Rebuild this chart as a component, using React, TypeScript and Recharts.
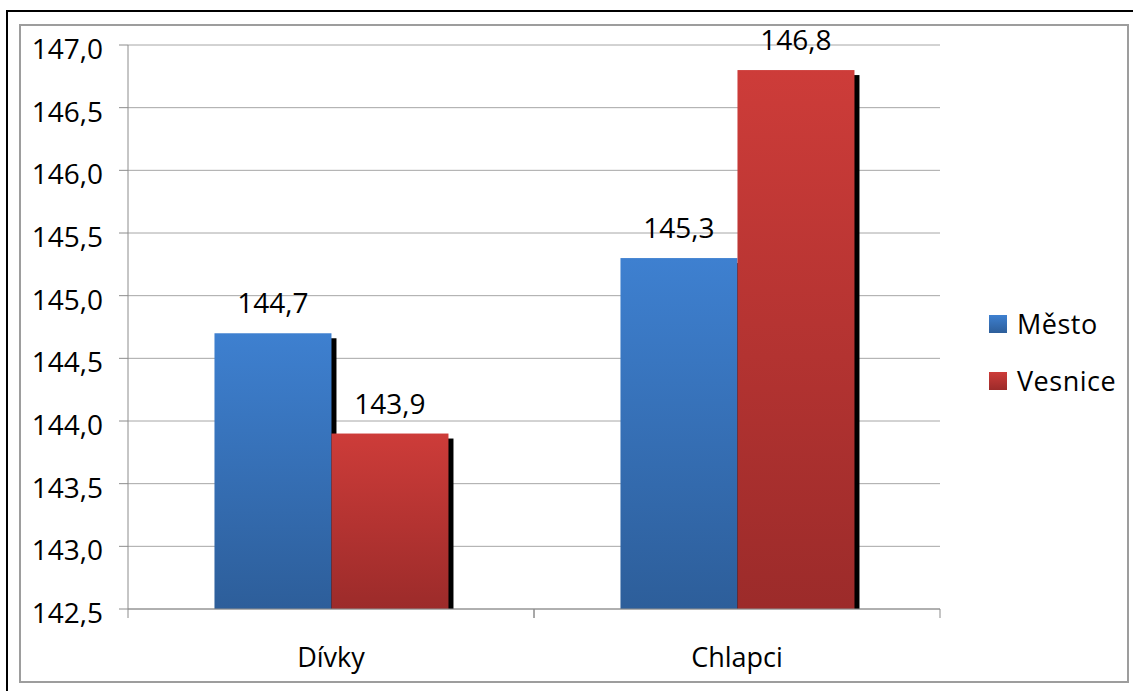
import React from "react";
import {
  BarChart,
  Bar,
  XAxis,
  YAxis,
  CartesianGrid,
  Legend,
  LabelList,
} from "recharts";

// Průměrná výška dětí podle bydliště
const categories = ["Dívky", "Chlapci"];
const mestoValues = [144.7, 145.3];
const vesniceValues = [143.9, 146.8];
const yTicks = [142.5, 143.0, 143.5, 144.0, 144.5, 145.0, 145.5, 146.0, 146.5, 147.0];
const seriesNames = ["Město", "Vesnice"];

const data = categories.map((name, i) => ({
  name,
  mesto: mestoValues[i],
  vesnice: vesniceValues[i],
}));

const FONT = "'Open Sans', 'Noto Sans', sans-serif";
const FS = 28;
const fmt = (v: number) => v.toFixed(1).replace(".", ",");

const GRAD = {
  mesto: ["#3e80d0", "#2d5e9a"],
  vesnice: ["#cd3c39", "#9c2b2a"],
};

// Bar with a solid black drop shadow offset to the lower right
const ShadowBar = (props: any) => {
  const { x, y, width, height, fill } = props;
  if (height == null || height <= 0) return null;
  return (
    <g>
      <rect x={x + 5} y={y + 5} width={width} height={height - 3} fill="#000" />
      <rect x={x} y={y} width={width} height={height} fill={fill} />
    </g>
  );
};

const ValueLabel = (props: any) => {
  const { x, y, width, value } = props;
  return (
    <text
      x={x + width / 2}
      y={y - 20}
      textAnchor="middle"
      fill="#000"
      fontSize={FS}
      fontFamily={FONT}
    >
      {fmt(value)}
    </text>
  );
};

const YTick = (props: any) => {
  const { x, y, payload } = props;
  return (
    <text x={x} y={y + 14} textAnchor="end" fill="#000" fontSize={FS} fontFamily={FONT}>
      {fmt(payload.value)}
    </text>
  );
};

// Category label plus the tick marks at both edges of the category band
const XTick = (props: any) => {
  const { x, y, payload } = props;
  const half = payload.offset ?? 0;
  const top = y - 6;
  return (
    <g>
      <line x1={x - half} x2={x - half} y1={top} y2={top + 9} stroke="#8c8c8c" />
      <line x1={x + half} x2={x + half} y1={top} y2={top + 9} stroke="#8c8c8c" />
      <text x={x} y={top + 58} textAnchor="middle" fill="#000" fontSize={FS - 1} fontFamily={FONT}>
        {payload.value}
      </text>
    </g>
  );
};

const LegendContent = () => {
  const keys: Array<"mesto" | "vesnice"> = ["mesto", "vesnice"];
  return (
    <div style={{ fontFamily: FONT, fontSize: FS - 1, color: "#000" }}>
      {keys.map((k, i) => (
        <div
          key={k}
          style={{ display: "flex", alignItems: "center", height: 57, letterSpacing: 0.5 }}
        >
          <div
            style={{
              width: 18,
              height: 18,
              marginRight: 10,
              background: `linear-gradient(${GRAD[k][0]}, ${GRAD[k][1]})`,
            }}
          />
          <span>{seriesNames[i]}</span>
        </div>
      ))}
    </div>
  );
};

export default function App() {
  return (
    <div
      style={{
        position: "absolute",
        left: 0,
        top: 0,
        width: 1133,
        height: 691,
        background: "#fff",
        overflow: "hidden",
      }}
    >
      <div
        style={{
          position: "absolute",
          left: 6,
          top: 10,
          width: 1200,
          height: 800,
          borderTop: "2px solid #000",
          borderLeft: "2px solid #000",
        }}
      />
      <div
        style={{
          position: "absolute",
          left: 19,
          top: 24,
          width: 1110,
          height: 659,
          boxSizing: "border-box",
          border: "2px solid #9d9d9d",
        }}
      />
      <div style={{ position: "absolute", left: 0, top: 0 }}>
        <BarChart
          width={1133}
          height={691}
          data={data}
          margin={{ top: 45, right: 193, bottom: 0, left: 0 }}
          barCategoryGap="21.3%"
          barGap={0}
        >
          <defs>
            <linearGradient id="gMesto" x1="0" y1="0" x2="0" y2="1">
              <stop offset="0%" stopColor={GRAD.mesto[0]} />
              <stop offset="100%" stopColor={GRAD.mesto[1]} />
            </linearGradient>
            <linearGradient id="gVesnice" x1="0" y1="0" x2="0" y2="1">
              <stop offset="0%" stopColor={GRAD.vesnice[0]} />
              <stop offset="100%" stopColor={GRAD.vesnice[1]} />
            </linearGradient>
          </defs>
          <CartesianGrid vertical={false} stroke="#a6a6a6" strokeWidth={1} />
          <XAxis
            dataKey="name"
            axisLine={{ stroke: "#8c8c8c" }}
            tickLine={false}
            tick={<XTick />}
            tickMargin={0}
            height={82}
            interval={0}
          />
          <YAxis
            domain={[142.5, 147]}
            ticks={yTicks}
            width={128}
            axisLine={{ stroke: "#8c8c8c" }}
            tickLine={{ stroke: "#8c8c8c" }}
            tickSize={9}
            tickMargin={16}
            tick={<YTick />}
            allowDataOverflow
          />
          <Legend
            layout="vertical"
            align="center"
            verticalAlign="middle"
            content={<LegendContent />}
            wrapperStyle={{ left: 989, top: 295, width: 144, height: 114 }}
          />
          <Bar
            dataKey="mesto"
            name={seriesNames[0]}
            fill="url(#gMesto)"
            shape={<ShadowBar />}
            isAnimationActive={false}
          >
            <LabelList dataKey="mesto" content={<ValueLabel />} />
          </Bar>
          <Bar
            dataKey="vesnice"
            name={seriesNames[1]}
            fill="url(#gVesnice)"
            shape={<ShadowBar />}
            isAnimationActive={false}
          >
            <LabelList dataKey="vesnice" content={<ValueLabel />} />
          </Bar>
        </BarChart>
      </div>
    </div>
  );
}
